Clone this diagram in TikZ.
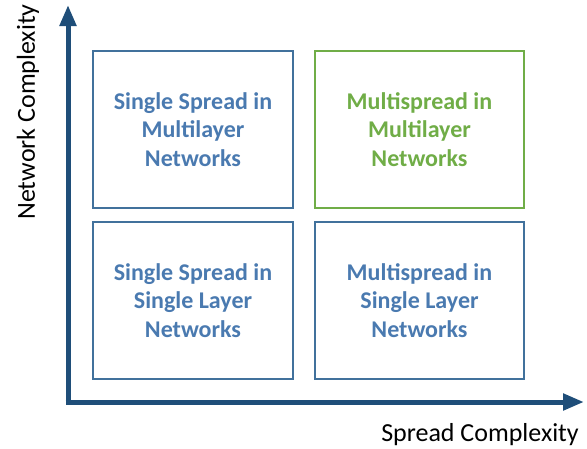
\documentclass[tikz,border=0pt]{standalone}
\usepackage{fontspec}
\setmainfont{Carlito}
\usetikzlibrary{arrows.meta,positioning}
\definecolor{axisblue}{HTML}{1F4E79}
\definecolor{boxblue}{HTML}{41719C}
\definecolor{textblue}{HTML}{4A7AB0}
\definecolor{boxgreen}{HTML}{70AD47}

\begin{document}
\begin{tikzpicture}[x=1pt, y=-1pt,
    quad/.style={draw=boxblue, line width=2pt, minimum width=200pt, minimum height=157pt,
        text=textblue, font=\fontsize{24}{28.5}\selectfont\bfseries, align=center, inner sep=0pt},
    axis/.style={draw=axisblue, line width=5pt, -{Triangle[length=21pt, width=16pt]}}]
    \useasboundingbox (0,0) rectangle (587,448);
    % Quadranten
    \node[quad] (sl) at (193,129.5) {Single Spread in\\Multilayer\\Networks};
    \node[quad, draw=boxgreen, text=boxgreen, minimum width=209pt] (ml) at (419.5,129.5) {Multispread in\\Multilayer\\Networks};
    \node[quad] (ss) at (193,300.5) {Single Spread in\\Single Layer\\Networks};
    \node[quad, minimum width=209pt] (ms) at (419.5,300.5) {Multispread in\\Single Layer\\Networks};
    % Achsen
    \coordinate (origin) at (68,402);
    \coordinate (ytip) at (68,5);
    \coordinate (xtip) at (584,402);
    \draw[axis] ([yshift=2.5pt]origin) -- (ytip);
    \draw[axis] ([xshift=-2.5pt]origin) -- (xtip);
    \node[font=\fontsize{26}{30}\selectfont] (xlab) at (480,435) {Spread Complexity};
    \node[font=\fontsize{26}{30}\selectfont, rotate=90] (ylab) at (28,112) {Network Complexity};
\end{tikzpicture}
\end{document}
